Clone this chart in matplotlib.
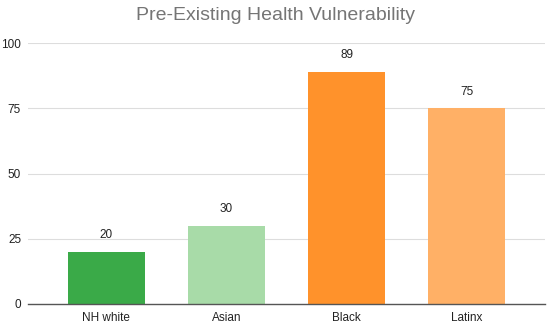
import matplotlib
matplotlib.use('Agg')
import matplotlib.pyplot as plt

plt.rcParams['font.family'] = ['Liberation Sans', 'DejaVu Sans']

# data
groups = ['NH white', 'Asian', 'Black', 'Latinx']
values = [20, 30, 89, 75]
bar_colors = ['#3aaa48', '#a8dba8', '#ff922b', '#ffb066']
yticks = [0, 25, 50, 75, 100]

fig = plt.figure(figsize=(5.5, 3.26), dpi=100)
ax = fig.add_axes([0.051, 0.0675, 0.94, 0.8005])

x = range(len(groups))
bars = ax.bar(x, values, width=0.64, color=bar_colors, zorder=3)

for b, v in zip(bars, values):
    ax.text(b.get_x() + b.get_width() / 2, v + 4, str(v),
            ha='center', va='bottom', fontsize=8.5, color='#222222')

ax.set_xlim(-0.65, 3.65)
ax.set_ylim(0, 100)
ax.set_yticks(yticks)
ax.set_xticks(list(x))
ax.set_xticklabels(groups)
ax.tick_params(axis='both', length=0, labelsize=8.5, colors='#222222')
ax.tick_params(axis='x', pad=6)
ax.tick_params(axis='y', pad=5)

ax.grid(axis='y', color='#dddddd', linewidth=0.8, zorder=0)
for s in ['top', 'right', 'left']:
    ax.spines[s].set_visible(False)
ax.spines['bottom'].set_color('#555555')
ax.spines['bottom'].set_linewidth(1.0)
ax.spines['bottom'].set_zorder(4)

fig.text(0.5, 0.952, 'Pre-Existing Health Vulnerability', ha='center', va='center',
         fontsize=14, color='#757575')

fig.savefig('out.png', dpi=100)
